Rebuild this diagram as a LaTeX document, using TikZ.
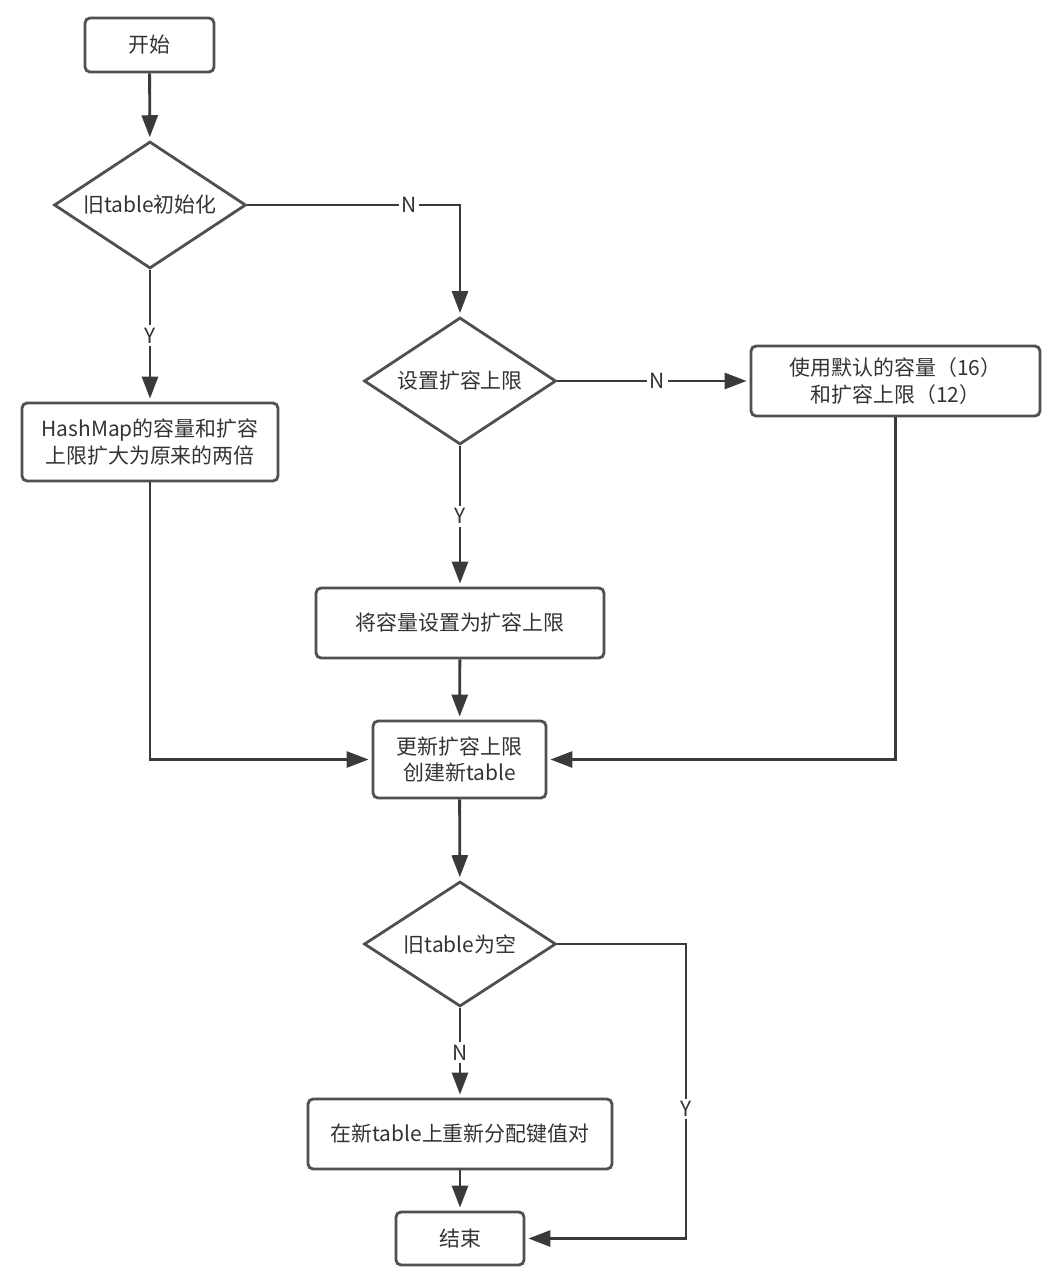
\documentclass[tikz,border=0pt]{standalone}
\usepackage{fontspec}
\setmainfont{Noto Sans CJK SC}
\usetikzlibrary{shapes.geometric,arrows.meta}
\definecolor{linec}{HTML}{3A3A3A}
\definecolor{boxc}{HTML}{505050}
\definecolor{txtc}{HTML}{333333}
\begin{document}
\begin{tikzpicture}[x=0.02cm,y=-0.02cm,
  font=\fontsize{11.9pt}{15pt}\selectfont, text=txtc,
  box/.style={draw=boxc, line width=1.6pt, rounded corners=0.1cm, fill=white, inner sep=0pt, align=center},
  dia/.style={draw=boxc, line width=1.6pt, diamond, fill=white, inner sep=0pt, minimum width=3.84cm, minimum height=2.54cm},
  conn/.style={draw=linec, line width=1.6pt, -{Triangle[length=0.44cm,width=0.32cm]}, shorten >=0.06cm},
  lbl/.style={fill=white, inner sep=1.5pt, text=txtc}]
\useasboundingbox (0,0) rectangle (1059,1285);
\node[box, minimum width=2.58cm, minimum height=1.08cm] (start) at (149.5,45) {开始};
\node[dia] (d1) at (150,205) {};
\node (d1t) at (d1) {旧table初始化};
\node[box, minimum width=5.12cm, minimum height=1.56cm] (hm) at (150,442) {HashMap的容量和扩容\\上限扩大为原来的两倍};
\node[dia] (d2) at (460,381) {};
\node (d2t) at (d2) {设置扩容上限};
\node[box, minimum width=5.78cm, minimum height=1.40cm] (def) at (895.5,381) {使用默认的容量（16）\\和扩容上限（12）};
\node[box, minimum width=5.76cm, minimum height=1.40cm] (set) at (460,623) {将容量设置为扩容上限};
\node[box, minimum width=3.46cm, minimum height=1.54cm] (upd) at (459.5,759.5) {更新扩容上限\\创建新table};
\node[dia, minimum height=2.50cm] (d3) at (460,944) {};
\node (d3t) at (d3) {旧table为空};
\node[box, minimum width=6.08cm, minimum height=1.40cm] (re) at (460,1134) {在新table上重新分配键值对};
\node[box, minimum width=2.56cm, minimum height=1.06cm] (end) at (460,1238.5) {结束};

\draw[conn] (start) -- (d1);
\draw[conn] (d1.east) -| (d2.north) node[lbl, pos=0.38] {N};
\draw[conn] (d1.south) -- (hm.north) node[lbl, midway] {Y};
\draw[conn] (d2.east) -- (def.west) node[lbl, pos=0.52] {N};
\draw[conn] (d2.south) -- (set.north) node[lbl, midway] {Y};
\draw[conn] (hm.south) |- (upd.west);
\draw[conn] (def.south) |- (upd.east);
\draw[conn] (set) -- (upd);
\draw[conn] (upd) -- (d3);
\draw[conn] (d3.south) -- (re.north) node[lbl, midway] {N};
\draw[conn] (re) -- (end);
\coordinate (yc) at (686,944);
\draw[conn] (d3.east) -- (yc) |- (end.east) node[lbl, pos=0.28] {Y};
\end{tikzpicture}
\end{document}
